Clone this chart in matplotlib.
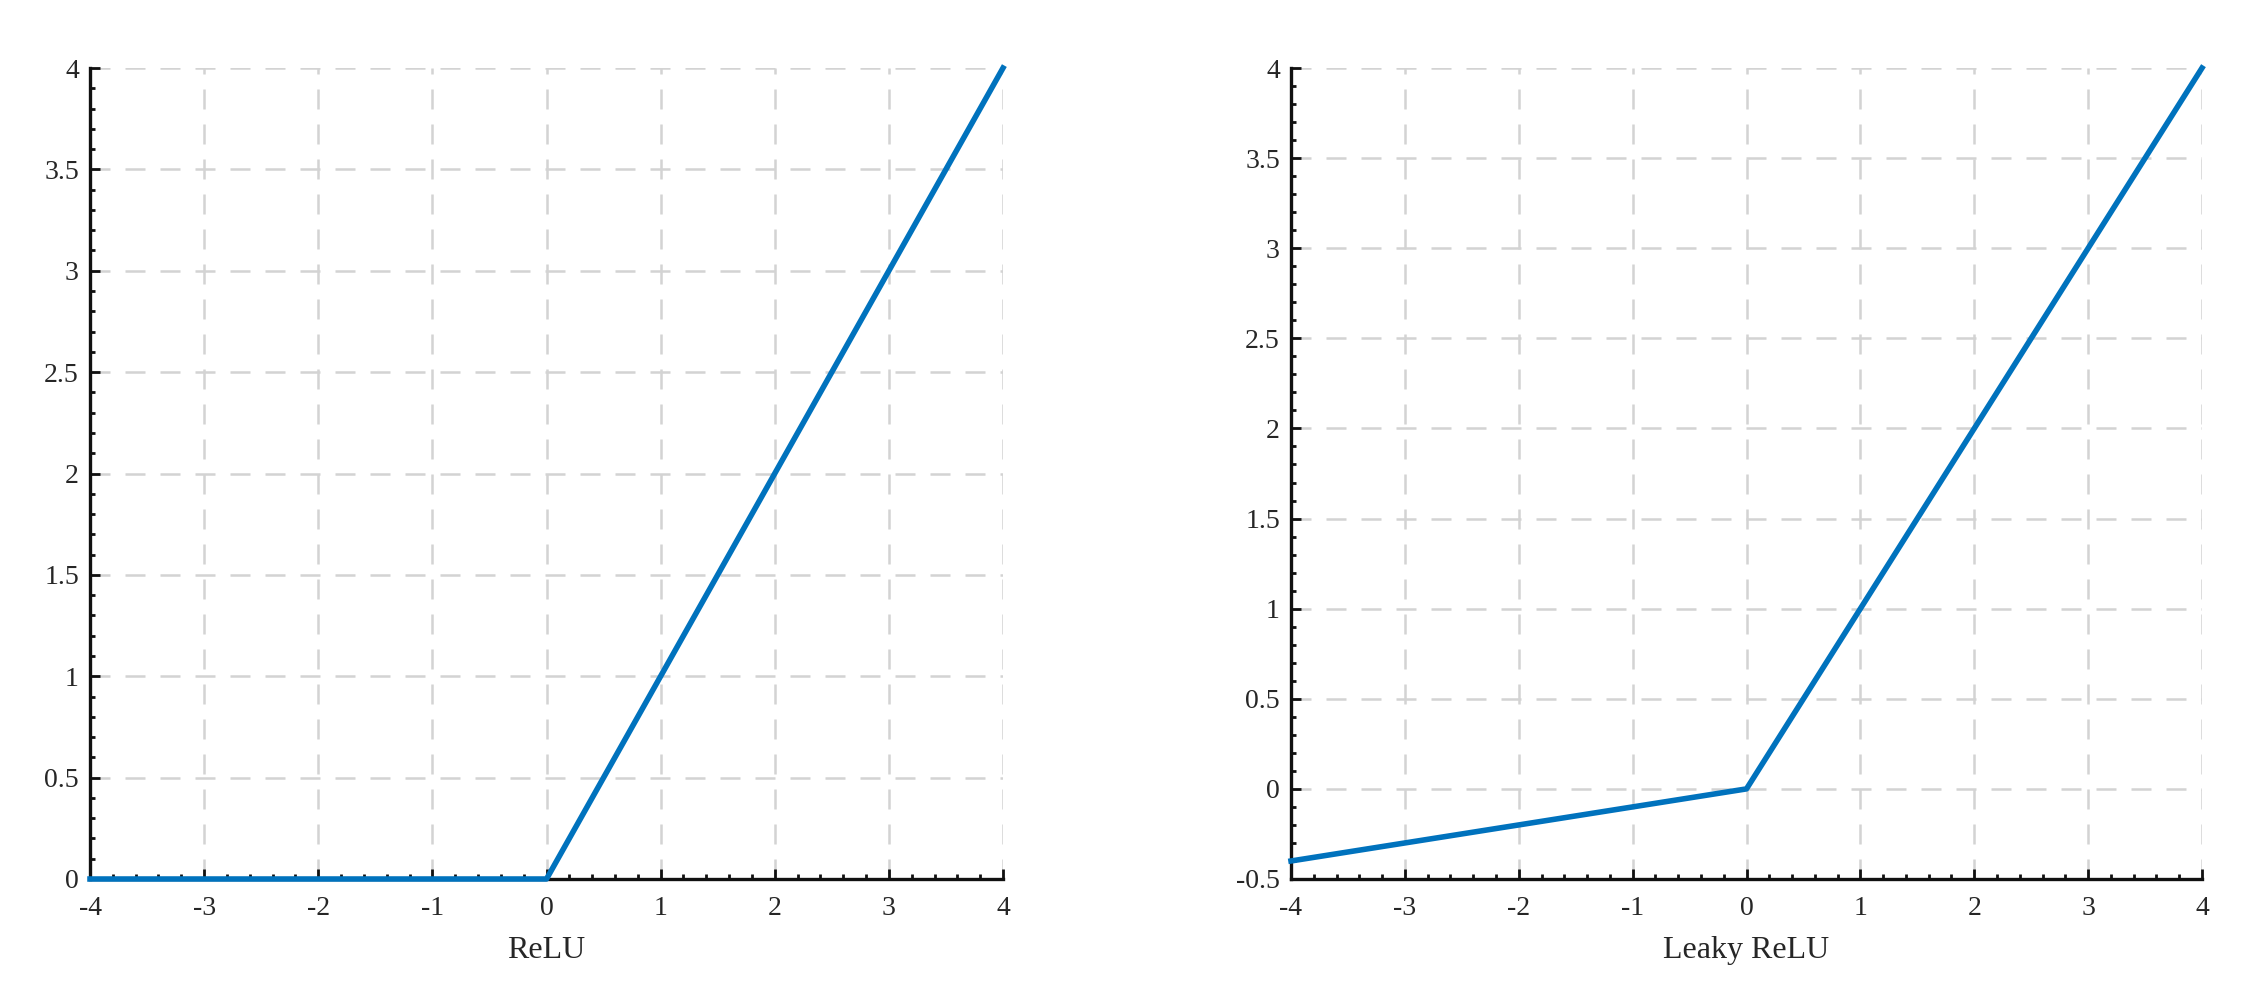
import matplotlib
matplotlib.use("Agg")
import matplotlib.pyplot as plt
from matplotlib.ticker import MultipleLocator, FuncFormatter

# Data
x_pts = [-4, 0, 4]
relu_vals = [0, 0, 4]
leaky_vals = [-0.4, 0, 4]
titles = ["ReLU", "Leaky ReLU"]
x_ticks = [-4, -3, -2, -1, 0, 1, 2, 3, 4]

plt.rcParams['font.family'] = ['Liberation Serif', 'DejaVu Serif']

fig = plt.figure(figsize=(22.54, 9.99), dpi=100)
ax1 = fig.add_axes([90/2254, 1-879/999, (1003-90)/2254, (879-68)/999])
ax2 = fig.add_axes([1291/2254, 1-879/999, (2202-1291)/2254, (879-68)/999])

BLUE = "#0072BD"
TXT = "#262626"

def fmt(v, pos):
    return "%g" % round(v, 6)

for ax, yv, title, ylim in [(ax1, relu_vals, titles[0], (0, 4)),
                            (ax2, leaky_vals, titles[1], (-0.5, 4))]:
    ax.plot(x_pts, yv, color=BLUE, lw=4.0, zorder=5, clip_on=False,
            solid_joinstyle='round')
    ax.set_xlim(-4, 4)
    ax.set_ylim(*ylim)
    ax.set_xticks(x_ticks)
    ax.xaxis.set_minor_locator(MultipleLocator(0.2))
    ax.yaxis.set_major_locator(MultipleLocator(0.5))
    ax.yaxis.set_minor_locator(MultipleLocator(0.1))
    ax.xaxis.set_major_formatter(FuncFormatter(fmt))
    ax.yaxis.set_major_formatter(FuncFormatter(fmt))
    for s in ['top', 'right']:
        ax.spines[s].set_visible(False)
    for s in ['left', 'bottom']:
        ax.spines[s].set_linewidth(2.4)
        ax.spines[s].set_color('#111111')
    ax.tick_params(which='major', direction='in', length=7, width=2.0,
                   color='#111111', labelsize=20, labelcolor=TXT)
    ax.tick_params(axis='x', which='major', pad=12)
    ax.tick_params(axis='y', which='major', pad=8)
    ax.tick_params(which='minor', direction='in', length=3.5, width=2.0,
                   color='#111111')
    ax.grid(True, which='major', color='#d3d3d3', linestyle=(0, (8, 6)),
            linewidth=1.8)
    ax.set_axisbelow(True)
    ax.set_xlabel(title, fontsize=23, color=TXT, labelpad=11)

fig.savefig("out.png", dpi=100, facecolor='white')
